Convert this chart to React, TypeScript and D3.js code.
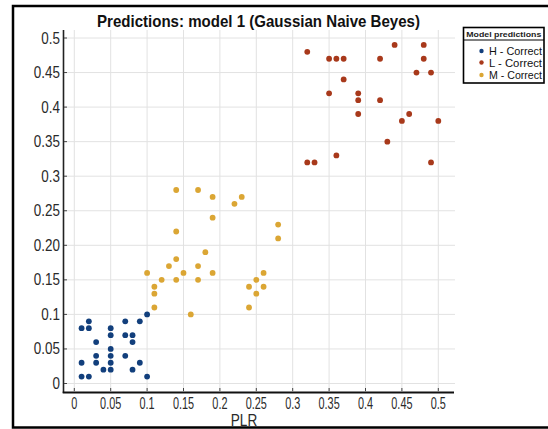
import { scaleLinear } from "d3";

const xTicks = [0, 0.05, 0.1, 0.15, 0.2, 0.25, 0.3, 0.35, 0.4, 0.45, 0.5];
const xTickLabels = ["0", "0.05", "0.1", "0.15", "0.2", "0.25", "0.3", "0.35", "0.4", "0.45", "0.5"];
const yTicks = [0, 0.05, 0.1, 0.15, 0.2, 0.25, 0.3, 0.35, 0.4, 0.45, 0.5];
const yTickLabels = ["0", "0.05", "0.1", "0.15", "0.20", "0.25", "0.3", "0.35", "0.4", "0.45", "0.5"];

// H - Correct
const hPoints: [number, number][] = [
  [0.01, 0.08], [0.02, 0.08], [0.02, 0.09], [0.03, 0.06], [0.03, 0.04], [0.03, 0.03],
  [0.01, 0.03], [0.01, 0.01], [0.02, 0.01], [0.04, 0.02], [0.05, 0.08], [0.05, 0.07],
  [0.05, 0.05], [0.05, 0.04], [0.05, 0.03], [0.05, 0.02], [0.07, 0.09], [0.07, 0.07],
  [0.07, 0.04], [0.08, 0.07], [0.08, 0.06], [0.08, 0.02], [0.09, 0.09], [0.09, 0.03],
  [0.1, 0.1], [0.1, 0.01],
];

// L - Correct
const lPoints: [number, number][] = [
  [0.32, 0.48], [0.35, 0.47], [0.36, 0.47], [0.37, 0.47], [0.42, 0.47], [0.44, 0.49],
  [0.48, 0.49], [0.48, 0.47], [0.47, 0.45], [0.49, 0.45], [0.37, 0.44], [0.35, 0.42],
  [0.39, 0.42], [0.39, 0.41], [0.42, 0.41], [0.39, 0.39], [0.46, 0.39], [0.45, 0.38],
  [0.5, 0.38], [0.43, 0.35], [0.36, 0.33], [0.32, 0.32], [0.33, 0.32], [0.49, 0.32],
];

// M - Correct
const mPoints: [number, number][] = [
  [0.14, 0.28], [0.17, 0.28], [0.19, 0.27], [0.22, 0.26], [0.23, 0.27], [0.19, 0.24],
  [0.14, 0.22], [0.28, 0.23], [0.28, 0.21], [0.18, 0.19], [0.14, 0.18], [0.13, 0.17],
  [0.17, 0.17], [0.1, 0.16], [0.15, 0.16], [0.19, 0.16], [0.12, 0.15], [0.14, 0.15],
  [0.17, 0.15], [0.11, 0.14], [0.11, 0.13], [0.11, 0.11], [0.16, 0.1], [0.24, 0.14],
  [0.25, 0.15], [0.26, 0.16], [0.26, 0.14], [0.25, 0.13], [0.24, 0.11],
];

const seriesNames = ["H - Correct", "L - Correct", "M - Correct"];
const seriesColors = ["#123f7c", "#a8391b", "#dba634"];

const W = 548;
const H = 429;
const plot = { left: 64, right: 455, top: 30, bottom: 392 };
const font = "'Liberation Sans', Arial, sans-serif";

export default function App() {
  const x = scaleLinear().domain([0, 0.5]).range([74.3, 438.3]);
  const y = scaleLinear().domain([0, 0.5]).range([383.5, 38]);
  const series = [hPoints, lPoints, mPoints];

  return (
    <svg
      width={W}
      height={H}
      style={{ position: "absolute", left: 0, top: 0, background: "#fff" }}
      fontFamily={font}
    >
      {/* outer frame */}
      <rect x={13} y={6} width={545} height={421.5} fill="none" stroke="#000" strokeWidth={2.5} />

      {/* title */}
      <text
        x={258.5}
        y={26.5}
        textAnchor="middle"
        fontSize={17}
        fontWeight="bold"
        fill="#111"
        textLength={323}
        lengthAdjust="spacingAndGlyphs"
      >
        Predictions: model 1 (Gaussian Naive Beyes)
      </text>

      {/* grid */}
      {xTicks.map((t) => (
        <line key={"gx" + t} x1={x(t)} x2={x(t)} y1={plot.top} y2={plot.bottom} stroke="#e2e2e2" strokeWidth={1} />
      ))}
      {yTicks.map((t) => (
        <line key={"gy" + t} x1={plot.left} x2={plot.right} y1={y(t)} y2={y(t)} stroke="#e2e2e2" strokeWidth={1} />
      ))}

      {/* axes */}
      <line x1={63.5} x2={63.5} y1={plot.top} y2={plot.bottom + 1} stroke="#222" strokeWidth={1.6} />
      <line x1={62.7} x2={plot.right - 1} y1={392.5} y2={392.5} stroke="#111" strokeWidth={2.2} />

      {yTicks.map((t, i) => (
        <g key={"yt" + t}>
          <line x1={64} x2={67} y1={y(t)} y2={y(t)} stroke="#444" strokeWidth={1} />
          <text
            transform={`translate(60,${y(t) + 5.5}) scale(0.84,1)`}
            textAnchor="end"
            fontSize={16}
            fill="#2a2a2a"
          >
            {yTickLabels[i]}
          </text>
        </g>
      ))}
      {xTicks.map((t, i) => (
        <g key={"xt" + t}>
          <line x1={x(t)} x2={x(t)} y1={391} y2={388} stroke="#444" strokeWidth={1} />
          <text
            transform={`translate(${x(t)},${408.5}) scale(0.68,1)`}
            textAnchor="middle"
            fontSize={16}
            fill="#2a2a2a"
          >
            {xTickLabels[i]}
          </text>
        </g>
      ))}
      <text transform="translate(244,426) scale(0.8,1)" textAnchor="middle" fontSize={17} fill="#2a2a2a">
        PLR
      </text>

      {/* points */}
      {series.map((pts, si) =>
        pts.map(([px, py], i) => (
          <circle key={si + "-" + i} cx={x(px)} cy={y(py)} r={2.9} fill={seriesColors[si]} />
        ))
      )}

      {/* legend */}
      <g>
        <rect x={463.5} y={27.5} width={80.5} height={55.5} fill="#fff" stroke="#000" strokeWidth={1.6} />
        <line x1={463.5} x2={544} y1={40} y2={40} stroke="#000" strokeWidth={1} />
        <text
          x={503.8}
          y={37}
          textAnchor="middle"
          fontSize={8}
          fontWeight="bold"
          fill="#222"
          textLength={75}
          lengthAdjust="spacingAndGlyphs"
        >
          Model predictions
        </text>
        {seriesNames.map((name, i) => {
          const cy = [51, 62.5, 75][i];
          return (
            <g key={name}>
              <circle cx={481.5} cy={cy} r={2.2} fill={seriesColors[i]} />
              <text
                x={489}
                y={cy + 4}
                fontSize={11}
                fill="#111"
                textLength={53}
                lengthAdjust="spacingAndGlyphs"
              >
                {name}
              </text>
            </g>
          );
        })}
      </g>
    </svg>
  );
}
